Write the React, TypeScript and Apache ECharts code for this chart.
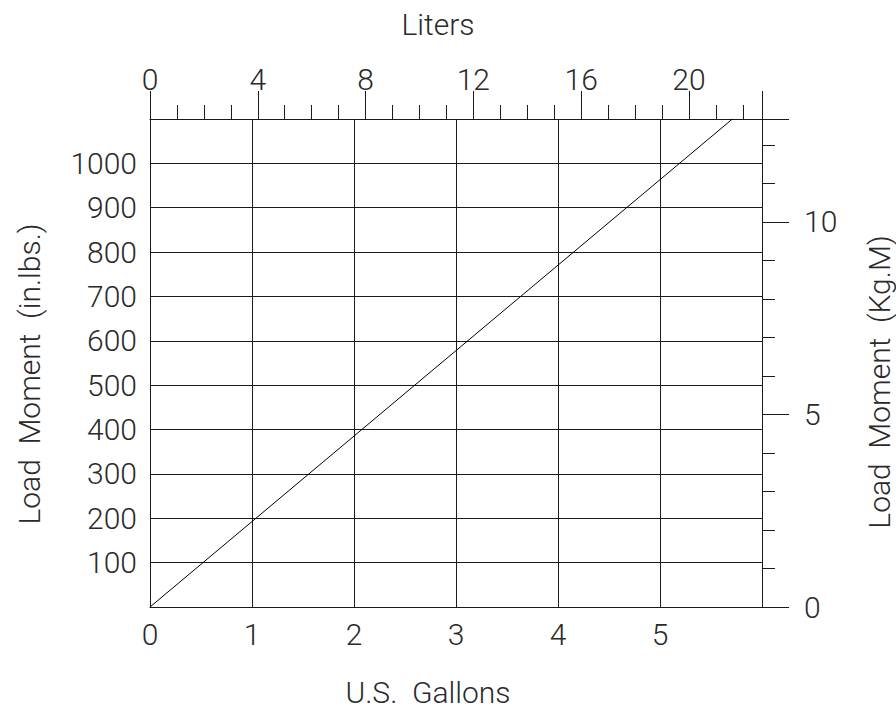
import React, { useEffect, useRef } from "react";
import * as echarts from "echarts";

// ---- data ----
const gallonLabels = [0, 1, 2, 3, 4, 5];
const literLabels = [0, 4, 8, 12, 16, 20];
const inLbsLabels = [100, 200, 300, 400, 500, 600, 700, 800, 900, 1000];
const kgmLabels = [0, 5, 10];
const lineGallons = [0, 5.71];
const lineInLbs = [0, 1100];

const GAL_MAX = 6;
const IN_LBS_MAX = 1100;
const LITERS_PER_GALLON = 3.785411784;
const IN_LBS_PER_KGM = 86.796;

const FONT = "Roboto";
const INK = "#1a1a1a";
const TEXT = "#2a2a2a";

export default function App() {
  const ref = useRef<HTMLDivElement>(null);
  useEffect(() => {
    if (!ref.current) return;
    const chart = echarts.init(ref.current, undefined, { renderer: "svg" });
    const lbl = (list: number[], margin: number) => ({
      show: true,
      margin,
      fontFamily: FONT,
      fontWeight: 300,
      fontSize: 30,
      color: TEXT,
      formatter: (v: number) => (list.some((x) => Math.abs(x - v) < 1e-6) ? String(v) : ""),
    });
    const title = (text: string, x: number, y: number, rot: number) => ({
      type: "text",
      x,
      y,
      rotation: rot,
      style: {
        text,
        fontFamily: FONT,
        fontWeight: 300,
        fontSize: 30,
        fill: TEXT,
        align: "center",
        verticalAlign: "middle",
        textAlign: "center",
        textVerticalAlign: "middle",
      },
    });
    chart.setOption({
      animation: false,
      backgroundColor: "#ffffff",
      grid: { left: 150, top: 119, width: 612, height: 488, containLabel: false },
      xAxis: [
        {
          type: "value",
          position: "bottom",
          min: 0,
          max: GAL_MAX,
          interval: 1,
          axisLine: { show: true, lineStyle: { color: INK, width: 1 } },
          axisTick: { show: false },
          splitLine: { show: true, lineStyle: { color: INK, width: 1 } },
          axisLabel: lbl(gallonLabels, 12),
        },
        {
          type: "value",
          position: "top",
          min: 0,
          max: GAL_MAX * LITERS_PER_GALLON,
          interval: 4,
          axisLine: { show: true, onZero: false, lineStyle: { color: INK, width: 1 } },
          axisTick: { show: true, inside: false, length: 28, lineStyle: { color: INK, width: 1 } },
          minorTick: { show: true, splitNumber: 4, length: 14, lineStyle: { color: INK, width: 1 } },
          splitLine: { show: false },
          axisLabel: lbl(literLabels, 25),
        },
      ],
      yAxis: [
        {
          type: "value",
          position: "left",
          min: 0,
          max: IN_LBS_MAX,
          interval: 100,
          axisLine: { show: true, lineStyle: { color: INK, width: 1 } },
          axisTick: { show: false },
          splitLine: { show: true, lineStyle: { color: INK, width: 1 } },
          axisLabel: { ...lbl(inLbsLabels, 13), padding: [8, 0, 0, 0] },
        },
        {
          type: "value",
          position: "right",
          min: 0,
          max: IN_LBS_MAX / IN_LBS_PER_KGM,
          interval: 5,
          axisLine: { show: true, onZero: false, lineStyle: { color: INK, width: 1 } },
          axisTick: { show: true, inside: false, length: 27, lineStyle: { color: INK, width: 1 } },
          minorTick: { show: true, splitNumber: 5, length: 13, lineStyle: { color: INK, width: 1 } },
          splitLine: { show: false },
          axisLabel: { ...lbl(kgmLabels, 42), padding: [6, 0, 0, 0] },
        },
      ],
      graphic: [
        title("Liters", 438, 24, 0),
        title("U.S.  Gallons", 428, 692, 0),
        title("Load  Moment  (in.lbs.)", 29, 374, Math.PI / 2),
        title("Load  Moment  (Kg.M)", 879, 382, Math.PI / 2),
      ],
      series: [
        {
          type: "line",
          xAxisIndex: 0,
          yAxisIndex: 0,
          data: lineGallons.map((g, i) => [g, lineInLbs[i]]),
          symbol: "none",
          clip: true,
          lineStyle: { color: "#000", width: 1 },
        },
      ],
    });
    return () => chart.dispose();
  }, []);
  return (
    <div
      ref={ref}
      style={{ position: "fixed", left: 0, top: 0, width: "896px", height: "709px", background: "#fff" }}
    />
  );
}
